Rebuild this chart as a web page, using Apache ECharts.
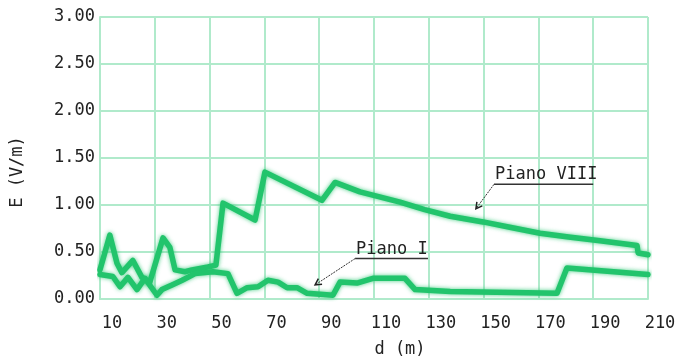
<!DOCTYPE html>
<html>
<head>
<meta charset="utf-8">
<script src="https://cdn.jsdelivr.net/npm/echarts@6/dist/echarts.min.js"></script>
<style>
html,body{margin:0;padding:0;background:#fff;}
#c{width:687px;height:359px;}
</style>
</head>
<body>
<div id="c"></div>
<script>
// Piano VIII: distance d (m) and field E (V/m)
const pianoVIII_d = [10, 13.6, 16.2, 18.0, 22.0, 25.3, 28.2, 33.0, 35.5, 37.4, 41.0, 43.6, 49.4, 52.3, 54.9, 66.6, 70.2, 91.0, 95.8, 104.9, 119.5, 128.5, 137.8, 149.8, 160.0, 170.6, 181.0, 192.5, 206.0, 206.4, 210];
const pianoVIII_E = [0.31, 0.68, 0.38, 0.28, 0.41, 0.23, 0.18, 0.65, 0.55, 0.31, 0.29, 0.31, 0.34, 0.36, 1.02, 0.84, 1.35, 1.05, 1.24, 1.14, 1.03, 0.95, 0.88, 0.82, 0.76, 0.70, 0.66, 0.62, 0.57, 0.49, 0.47];
// Piano I
const pianoI_d = [10, 14.7, 17.3, 20.2, 23.5, 26.4, 30.8, 32.6, 36.3, 40.0, 44.7, 51.2, 56.7, 60.0, 63.7, 67.7, 71.3, 75.0, 78.3, 81.9, 85.6, 95.0, 97.6, 103.8, 109.6, 121.3, 125.0, 137.8, 176.8, 180.4, 210];
const pianoI_E = [0.26, 0.24, 0.13, 0.23, 0.10, 0.22, 0.04, 0.10, 0.15, 0.20, 0.27, 0.29, 0.27, 0.06, 0.12, 0.13, 0.20, 0.18, 0.12, 0.12, 0.06, 0.04, 0.18, 0.17, 0.22, 0.22, 0.10, 0.08, 0.06, 0.33, 0.26];
// Annotations: label, arrow tip, arrow start (= underline start), underline end
const annotLabels = ['Piano VIII', 'Piano I'];
const annotTip = [[147.2, 0.96], [88.5, 0.15]];
const annotStart = [[153.8, 1.22], [103.1, 0.43]];
const annotEnd = [[190.0, 1.22], [129.7, 0.43]];
// Axis
const xMin = 10, xMax = 210, xStep = 20;
const yMin = 0, yMax = 3, yStep = 0.5;

const lineColor = '#22c46c';
const gridColor = '#b0eacb';
const font = 'DejaVu Sans Mono';
const fsz = 17;

const chart = echarts.init(document.getElementById('c'));
function pairs(xs, ys){ return xs.map((x,i)=>[x, ys[i]]); }
const lineSeries = (name, xs, ys) => ({
  name, type:'line', data: pairs(xs, ys), showSymbol:false, smooth:false,
  lineStyle:{color:lineColor, width:5.5, shadowColor:'rgba(34,196,108,0.8)', shadowBlur:4, join:'round', cap:'round'},
  itemStyle:{color:lineColor}, animation:false
});
chart.setOption({
  animation:false,
  grid:{left:100, right:39, top:17, bottom:60, containLabel:false, outerBoundsMode:'none'},
  xAxis:{
    type:'value', min:xMin, max:xMax, interval:xStep,
    name:'d (m)', nameLocation:'middle', nameGap:42,
    nameTextStyle:{fontFamily:font, fontSize:fsz, color:'#222', padding:[0,0,0,52]},
    axisLine:{show:true, lineStyle:{color:gridColor, width:2}},
    axisTick:{show:false},
    splitLine:{show:true, lineStyle:{color:gridColor, width:2}},
    axisLabel:{fontFamily:font, fontSize:fsz, color:'#222', margin:16, padding:[0,0,0,24]}
  },
  yAxis:{
    type:'value', min:yMin, max:yMax, interval:yStep,
    name:'E (V/m)', nameLocation:'middle', nameGap:74,
    nameTextStyle:{fontFamily:font, fontSize:fsz, color:'#222', padding:[0,28,0,0]},
    axisLine:{show:true, lineStyle:{color:gridColor, width:2}},
    axisTick:{show:false},
    splitLine:{show:true, lineStyle:{color:gridColor, width:2}},
    axisLabel:{fontFamily:font, fontSize:fsz, color:'#222', margin:5, formatter:v=>v.toFixed(2)}
  },
  series:[lineSeries('Piano VIII', pianoVIII_d, pianoVIII_E), lineSeries('Piano I', pianoI_d, pianoI_E)]
});

const gfx = [];
annotLabels.forEach((lab, i) => {
  const tip = chart.convertToPixel({gridIndex:0}, annotTip[i]);
  const st = chart.convertToPixel({gridIndex:0}, annotStart[i]);
  const en = chart.convertToPixel({gridIndex:0}, annotEnd[i]);
  gfx.push({type:'line', shape:{x1:st[0], y1:st[1], x2:en[0], y2:en[1]}, style:{stroke:'#333', lineWidth:1.5}});
  gfx.push({type:'line', shape:{x1:st[0], y1:st[1], x2:tip[0], y2:tip[1]}, style:{stroke:'#333', lineWidth:1, lineDash:[2,1]}});
  const ang = Math.atan2(tip[1]-st[1], tip[0]-st[0]);
  const L = 7, w = 0.5;
  gfx.push({type:'polyline', shape:{points:[
    [tip[0]-L*Math.cos(ang-w), tip[1]-L*Math.sin(ang-w)], [tip[0], tip[1]],
    [tip[0]-L*Math.cos(ang+w), tip[1]-L*Math.sin(ang+w)]]}, style:{stroke:'#222', lineWidth:1.5, fill:null}});
  gfx.push({type:'text', x:st[0]+1, y:st[1]-1, style:{text:lab, fontFamily:font, fontSize:fsz, fill:'#222', textAlign:'left', textVerticalAlign:'bottom'}});
});
chart.setOption({graphic:gfx});
</script>
</body>
</html>
